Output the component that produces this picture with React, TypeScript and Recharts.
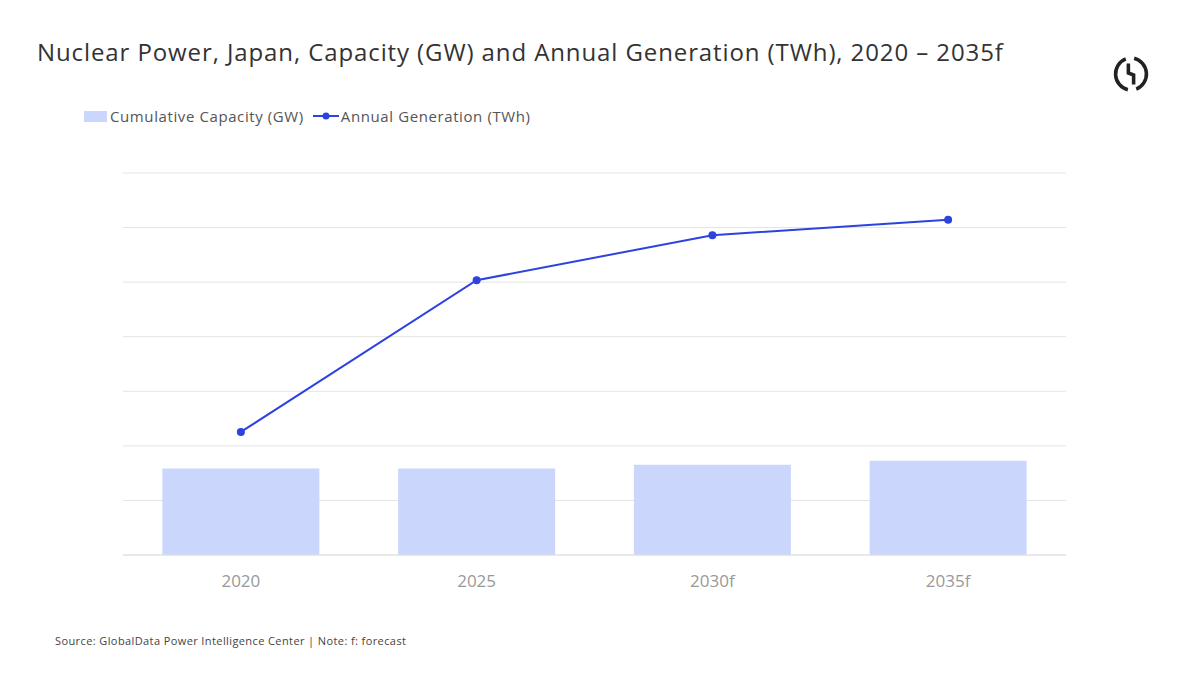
import { Bar, CartesianGrid, ComposedChart, Line, XAxis, YAxis } from "recharts";

const years = ["2020", "2025", "2030f", "2035f"];
const capacityGw = [31.7, 31.7, 33.1, 34.5];
const generationTwh = [45.1, 100.7, 117.2, 122.9];
const yTicks = [0, 20, 40, 60, 80, 100, 120, 140];

const data = years.map((year, i) => ({
  year,
  capacity: capacityGw[i],
  generation: generationTwh[i]
}));

const FONT = "'Open Sans', 'Noto Sans', sans-serif";
const BAR_COLOR = "#cad6fc";
const LINE_COLOR = "#2d43e0";

function Logo() {
  return (
    <svg width={42} height={42} viewBox="0 0 40 40" style={{ position: "absolute", left: 1110, top: 53 }}>
      <path d="M15 5.6 A15.5 15.5 0 0 0 17 35" fill="none" stroke="#222" strokeWidth={3.4} />
      <path d="M25 34.4 A15.5 15.5 0 0 0 23 5" fill="none" stroke="#222" strokeWidth={3.4} />
      <path d="M17.5 10 L17.5 19 L22.5 21 L22.5 30" fill="none" stroke="#222" strokeWidth={3.4} />
    </svg>
  );
}

function LegendRow() {
  return (
    <div
      style={{
        position: "absolute",
        left: 84,
        top: 106,
        display: "flex",
        alignItems: "center",
        fontFamily: FONT,
        fontSize: 15,
        letterSpacing: 0.6,
        color: "#555"
      }}
    >
      <span style={{ display: "inline-block", width: 23, height: 11, background: BAR_COLOR, marginRight: 3 }} />
      <span>Cumulative Capacity (GW)</span>
      <svg width={26} height={12} style={{ marginLeft: 9, marginRight: 2 }}>
        <line x1={0} y1={6} x2={26} y2={6} stroke={LINE_COLOR} strokeWidth={2} />
        <circle cx={13} cy={6} r={3.5} fill={LINE_COLOR} />
      </svg>
      <span>Annual Generation (TWh)</span>
    </div>
  );
}

export default function App() {
  return (
    <div style={{ position: "absolute", left: 0, top: 0, width: 1200, height: 675, background: "#fff", overflow: "hidden" }}>
      <div
        style={{
          position: "absolute",
          left: 37,
          top: 35,
          fontFamily: FONT,
          fontSize: 24,
          letterSpacing: 0.9,
          color: "#333",
          whiteSpace: "nowrap"
        }}
      >
        Nuclear Power, Japan, Capacity (GW) and Annual Generation (TWh), 2020 – 2035f
      </div>
      <Logo />
      <LegendRow />
      <ComposedChart
        width={1200}
        height={675}
        data={data}
        margin={{ top: 173, right: 134, bottom: 90, left: 123 }}
        barCategoryGap="16.7%"
      >
        <CartesianGrid vertical={false} stroke="#e4e4e4" />
        <XAxis
          dataKey="year"
          axisLine={{ stroke: "#e0e0e0" }}
          tickLine={false}
          tickMargin={14}
          tick={{ fontSize: 17, fill: "#999", fontFamily: FONT }}
        />
        <YAxis hide domain={[0, 140]} ticks={yTicks} />
        <Bar dataKey="capacity" fill={BAR_COLOR} isAnimationActive={false} />
        <Line
          dataKey="generation"
          type="linear"
          stroke={LINE_COLOR}
          strokeWidth={2}
          dot={{ r: 4, fill: LINE_COLOR, stroke: LINE_COLOR, strokeWidth: 0 }}
          isAnimationActive={false}
        />
      </ComposedChart>
      <div
        style={{
          position: "absolute",
          left: 55,
          top: 633,
          fontFamily: FONT,
          fontSize: 11,
          letterSpacing: 0.4,
          color: "#444"
        }}
      >
        Source: GlobalData Power Intelligence Center | Note: f: forecast
      </div>
    </div>
  );
}
